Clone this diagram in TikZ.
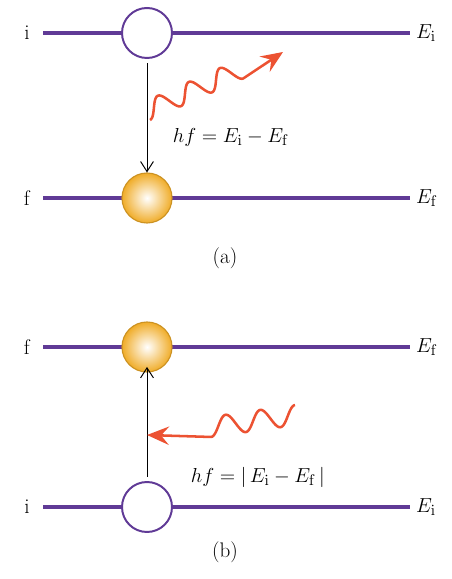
\documentclass[tikz,border=0pt]{standalone}
\usepackage{amsmath}
\usepackage{xcolor}
\usepackage{tikz}
\usetikzlibrary{arrows.meta, positioning}

\definecolor{levelpurple}{RGB}{96,58,150}
\definecolor{photonred}{RGB}{236,82,50}
\definecolor{ballorange}{RGB}{240,172,40}

\begin{document}
\begin{tikzpicture}[
    x=0.025cm, y=0.025cm,
    every node/.style={font=\fontsize{15}{18}\selectfont, text=black},
    level/.style={levelpurple, line width=2.2pt},
    emptystate/.style={circle, draw=levelpurple, line width=1.4pt, fill=white,
                       minimum size=1.25cm, inner sep=0pt},
    ball/.style={circle, draw=ballorange!85!black, line width=0.8pt,
                 inner color=white, outer color=ballorange,
                 minimum size=1.25cm, inner sep=0pt},
    trans/.style={-{Straight Barb[length=2.5mm, width=3.2mm]}, line width=0.7pt},
    photon/.style={photonred, line width=1.8pt, line join=round,
                   -{Stealth[length=5.5mm, width=4.6mm, inset=2mm]}},
]
\useasboundingbox (0,0) rectangle (452,579);

% (a) emission
\draw[level] (43,546) node[left=5pt]  (ia)  {i}
          -- (410,546) node[right] (eia) {$E_\mathrm{i}$};
\draw[level] (43,381) node[left=5pt]  (fa)  {f}
          -- (410,381) node[right] (efa) {$E_\mathrm{f}$};
\node[emptystate] (ca) at (147,546) {};
\node[ball]       (ba) at (147,381) {};
\draw[trans] ([yshift=-3pt]ca.south) -- (ba.north);
\coordinate (pa0) at (150,459);
\coordinate (pa1) at (283,527);
\begin{scope}[shift={(pa0)}, rotate=24]
  \draw[photon] plot[domain=0:102, samples=100, smooth] (\x,{9.5-9.5*cos(\x*10.588)}) -- (pa1);
\end{scope}
\node[anchor=west] (hfa) at (168,442) {$hf = E_\mathrm{i} - E_\mathrm{f}$};
\node (capa) at (225,321) {(a)};

% (b) absorption
\draw[level] (43,232) node[left=5pt]  (fb)  {f}
          -- (410,232) node[right] (efb) {$E_\mathrm{f}$};
\draw[level] (43,72) node[left=5pt]  (ib)  {i}
          -- (410,72) node[right] (eib) {$E_\mathrm{i}$};
\node[ball]       (bb) at (147,232) {};
\node[emptystate] (cb) at (147,72)  {};
\draw[trans] ([yshift=3pt]cb.north) -- ([yshift=4pt]bb.south);
\coordinate (pb0) at (295,174);
\coordinate (pb1) at (147,144);
\begin{scope}[shift={(pb0)}, rotate=188]
  \draw[photon] plot[domain=0:87.5, samples=80, smooth] (\x,{10-10*cos(\x*10.2857)}) -- (pb1);
\end{scope}
\node[anchor=west] (hfb) at (186,102) {$hf = \left|\,E_\mathrm{i} - E_\mathrm{f}\,\right|$};
\node (capb) at (225,27) {(b)};
\end{tikzpicture}
\end{document}
